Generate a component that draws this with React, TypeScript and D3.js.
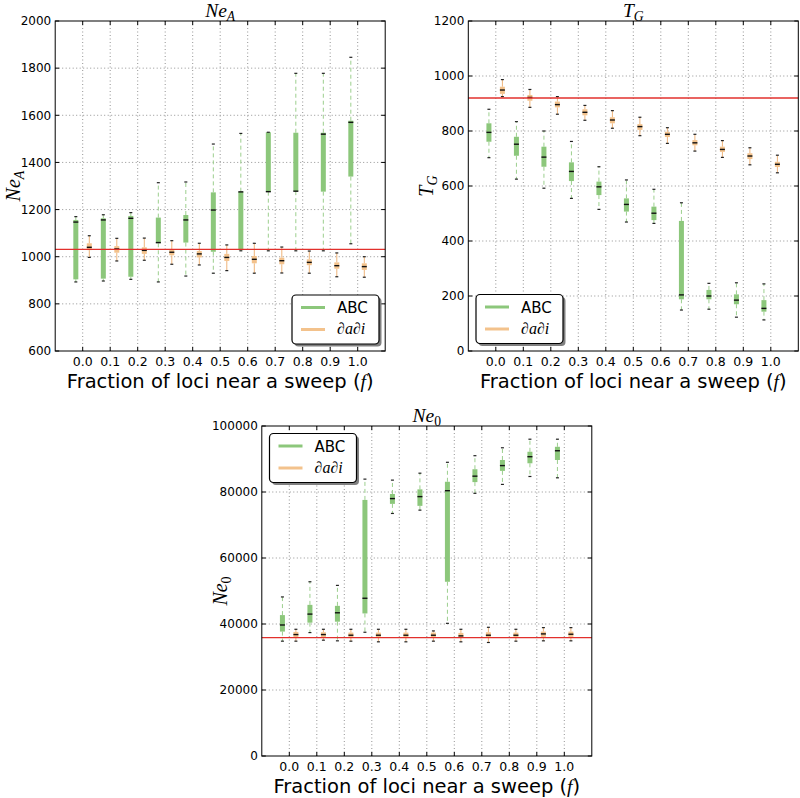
import React from "react";
import * as d3 from "d3";

// fraction of loci near a sweep
const fractions = [0.0, 0.1, 0.2, 0.3, 0.4, 0.5, 0.6, 0.7, 0.8, 0.9, 1.0];
const fractionLabels = ["0.0", "0.1", "0.2", "0.3", "0.4", "0.5", "0.6", "0.7", "0.8", "0.9", "1.0"];

// box stats per fraction: [whisker low, q1, median, q3, whisker high]
const neA_abc = [
  [893, 904, 1147, 1156, 1170],
  [897, 907, 1156, 1163, 1178],
  [904, 915, 1163, 1173, 1187],
  [893, 1057, 1060, 1166, 1314],
  [918, 1060, 1156, 1177, 1317],
  [930, 1021, 1198, 1273, 1478],
  [1025, 1028, 1275, 1276, 1523],
  [1025, 1276, 1276, 1528, 1528],
  [1025, 1278, 1278, 1526, 1778],
  [1025, 1276, 1520, 1526, 1778],
  [1055, 1340, 1570, 1577, 1846],
];
const neA_dadi = [
  [997, 1028, 1040, 1057, 1089],
  [982, 1017, 1033, 1045, 1078],
  [985, 1012, 1027, 1040, 1079],
  [968, 1006, 1019, 1031, 1068],
  [965, 997, 1012, 1024, 1057],
  [941, 982, 997, 1012, 1050],
  [930, 972, 989, 1003, 1057],
  [931, 968, 983, 996, 1041],
  [930, 964, 976, 989, 1024],
  [915, 949, 962, 976, 1016],
  [913, 944, 958, 972, 1000],
];
const neA_true = 1031;
const neA_ticks = [600, 800, 1000, 1200, 1400, 1600, 1800, 2000];

const tG_abc = [
  [703, 761, 795, 828, 879],
  [625, 710, 752, 779, 834],
  [592, 670, 705, 743, 800],
  [555, 618, 653, 686, 762],
  [515, 567, 597, 616, 670],
  [469, 507, 533, 555, 622],
  [464, 476, 501, 525, 588],
  [149, 188, 204, 473, 539],
  [152, 188, 200, 222, 246],
  [123, 170, 185, 206, 248],
  [113, 143, 155, 185, 244],
];
const tG_dadi = [
  [925, 935, 949, 961, 987],
  [886, 910, 922, 931, 951],
  [861, 886, 896, 907, 925],
  [839, 857, 868, 879, 893],
  [810, 828, 840, 850, 874],
  [783, 804, 816, 825, 850],
  [755, 778, 788, 797, 812],
  [727, 748, 757, 767, 788],
  [704, 724, 733, 743, 765],
  [677, 698, 709, 719, 739],
  [648, 669, 679, 688, 712],
];
const tG_true = 920;
const tG_ticks = [0, 200, 400, 600, 800, 1000, 1200];

const ne0_abc = [
  [34800, 37700, 39700, 42700, 48200],
  [37400, 40400, 43000, 45800, 52800],
  [34900, 40700, 43400, 45500, 51700],
  [37500, 43200, 47800, 77600, 83900],
  [73500, 76400, 78000, 79400, 83600],
  [74500, 75800, 78600, 80800, 85700],
  [40200, 52800, 80400, 83100, 89000],
  [79600, 83000, 84800, 86900, 91000],
  [82300, 86400, 88000, 89700, 93400],
  [84700, 88700, 90700, 92200, 96000],
  [84300, 89700, 92500, 93700, 96000],
];
const ne0_dadi = [
  [34800, 36000, 36800, 37600, 38400],
  [35100, 36000, 36800, 37500, 38400],
  [34800, 35900, 36600, 37400, 38400],
  [34600, 35900, 36600, 37400, 38400],
  [34600, 35900, 36600, 37400, 38400],
  [34800, 35900, 36600, 37400, 37900],
  [34600, 35800, 36400, 37300, 38400],
  [34400, 35900, 36600, 37500, 39000],
  [34800, 35900, 36600, 37400, 38400],
  [34900, 36100, 37000, 37700, 38900],
  [34900, 36100, 36900, 37700, 38900],
];
const ne0_true = 35900;
const ne0_ticks = [0, 20000, 40000, 60000, 80000, 100000];

const GREEN = "#8cc77b";
const GREEN_W = "#9ccf8e";
const ORANGE = "#f3c28c";
const ORANGE_W = "#efb47a";
const RED = "#e2302c";
const SANS = "'DejaVu Sans', sans-serif";
const SERIF = "'Liberation Serif', 'DejaVu Serif', serif";
const PW = 330;
const PH = 330;

function MathLabel({ x, y, base, sub, size, rotate }: any) {
  const t = rotate ? `rotate(-90 ${x} ${y})` : undefined;
  return (
    <text x={x} y={y} transform={t} textAnchor="middle" fontFamily={SERIF} fontStyle="italic" fontSize={size} fill="#000">
      <tspan>{base}</tspan>
      <tspan fontSize={size * 0.7} dy={size * 0.2} fontStyle={sub === "0" ? "normal" : "italic"}>{sub}</tspan>
    </text>
  );
}

function Boxes({ stats, x, y, offset, fill, wcolor, dashed }: any) {
  const bw = 5;
  const cw = 3;
  return (
    <g>
      {stats.map((s: number[], i: number) => {
        const cx = x(fractions[i] + offset);
        const [lo, q1, med, q3, hi] = s;
        return (
          <g key={i}>
            <line x1={cx} x2={cx} y1={y(q3)} y2={y(hi)} stroke={wcolor} strokeWidth={1} strokeDasharray={dashed ? "4,3" : undefined} />
            <line x1={cx} x2={cx} y1={y(q1)} y2={y(lo)} stroke={wcolor} strokeWidth={1} strokeDasharray={dashed ? "4,3" : undefined} />
            <rect x={cx - bw / 2} width={bw} y={y(q3)} height={Math.max(y(q1) - y(q3), 0.5)} fill={fill} />
            <line x1={cx - cw / 2} x2={cx + cw / 2} y1={y(hi)} y2={y(hi)} stroke="#222" strokeWidth={1.2} />
            <line x1={cx - cw / 2} x2={cx + cw / 2} y1={y(lo)} y2={y(lo)} stroke="#222" strokeWidth={1.2} />
            <line x1={cx - bw / 2} x2={cx + bw / 2} y1={y(med)} y2={y(med)} stroke="#111" strokeWidth={1.4} />
          </g>
        );
      })}
    </g>
  );
}

function Legend({ lx, ly }: any) {
  const w = 87;
  const h = 49;
  return (
    <g>
      <rect x={lx + 2.5} y={ly + 2.5} width={w} height={h} rx={4} fill="#808080" />
      <rect x={lx} y={ly} width={w} height={h} rx={4} fill="#fff" stroke="#000" strokeWidth={1.2} />
      <line x1={lx + 9} x2={lx + 33} y1={ly + 12.5} y2={ly + 12.5} stroke={GREEN} strokeWidth={3} />
      <text x={lx + 45} y={ly + 18} fontFamily={SANS} fontSize={15} fill="#000">ABC</text>
      <line x1={lx + 9} x2={lx + 33} y1={ly + 34.5} y2={ly + 34.5} stroke={ORANGE} strokeWidth={3} />
      <text x={lx + 45} y={ly + 39} fontFamily={SERIF} fontStyle="italic" fontSize={16} fill="#000">∂a∂i</text>
    </g>
  );
}

function Panel({ left, top, domain, ticks, abc, dadi, truth, base, sub, legend }: any) {
  const x = d3.scaleLinear().domain([-0.1, 1.1]).range([left, left + PW]);
  const y = d3.scaleLinear().domain(domain).range([top + PH, top]);
  const tl = 4;
  return (
    <g>
      {/* grid */}
      {fractions.map((f) => (
        <line key={"gx" + f} x1={x(f)} x2={x(f)} y1={top} y2={top + PH} stroke="#777" strokeWidth={0.8} strokeDasharray="1,2.5" />
      ))}
      {ticks.slice(1, -1).map((t: number) => (
        <line key={"gy" + t} x1={left} x2={left + PW} y1={y(t)} y2={y(t)} stroke="#777" strokeWidth={0.8} strokeDasharray="1,2.5" />
      ))}
      <Boxes stats={abc} x={x} y={y} offset={-0.025} fill={GREEN} wcolor={GREEN_W} dashed />
      <Boxes stats={dadi} x={x} y={y} offset={0.024} fill={ORANGE} wcolor={ORANGE_W} dashed={false} />
      <line x1={left} x2={left + PW} y1={y(truth)} y2={y(truth)} stroke={RED} strokeWidth={1.3} />
      {/* ticks */}
      {fractions.map((f) => (
        <g key={"tx" + f}>
          <line x1={x(f)} x2={x(f)} y1={top + PH} y2={top + PH - tl} stroke="#000" />
          <line x1={x(f)} x2={x(f)} y1={top} y2={top + tl} stroke="#000" />
        </g>
      ))}
      {ticks.map((t: number) => (
        <g key={"ty" + t}>
          <line x1={left} x2={left + tl} y1={y(t)} y2={y(t)} stroke="#000" />
          <line x1={left + PW} x2={left + PW - tl} y1={y(t)} y2={y(t)} stroke="#000" />
          <text x={left - 4} y={y(t)} dy="0.36em" textAnchor="end" fontFamily={SANS} fontSize={12} fill="#000">{t}</text>
        </g>
      ))}
      {fractionLabels.map((l, i) => (
        <text key={"lx" + l} x={x(fractions[i])} y={top + PH + 15} textAnchor="middle" fontFamily={SANS} fontSize={12.5} fill="#000">{l}</text>
      ))}
      <rect x={left} y={top} width={PW} height={PH} fill="none" stroke="#000" strokeWidth={1} />
      <text x={left + PW / 2} y={top + PH + 36.5} textAnchor="middle" fontFamily={SANS} fontSize={19.5} fill="#000">
        Fraction of loci near a sweep (<tspan fontFamily={SERIF} fontStyle="italic">f</tspan>)
      </text>
      <MathLabel x={left + PW / 2} y={top - 4} base={base} sub={sub} size={19.5} />
      <MathLabel x={left - 35} y={top + PH / 2} base={base} sub={sub} size={20} rotate />
      <Legend lx={legend[0]} ly={legend[1]} />
    </g>
  );
}

export default function App() {
  return (
    <svg width={800} height={798} style={{ position: "absolute", left: 0, top: 0, background: "#fff" }}>
      <Panel left={55.2} top={21} domain={[600, 2000]} ticks={neA_ticks} abc={neA_abc} dadi={neA_dadi} truth={neA_true} base="Ne" sub="A" legend={[292, 295]} />
      <Panel left={468.3} top={21} domain={[0, 1200]} ticks={tG_ticks} abc={tG_abc} dadi={tG_dadi} truth={tG_true} base="T" sub="G" legend={[476, 294.5]} />
      <Panel left={261.8} top={426} domain={[0, 100000]} ticks={ne0_ticks} abc={ne0_abc} dadi={ne0_dadi} truth={ne0_true} base="Ne" sub="0" legend={[269.5, 433.5]} />
    </svg>
  );
}
